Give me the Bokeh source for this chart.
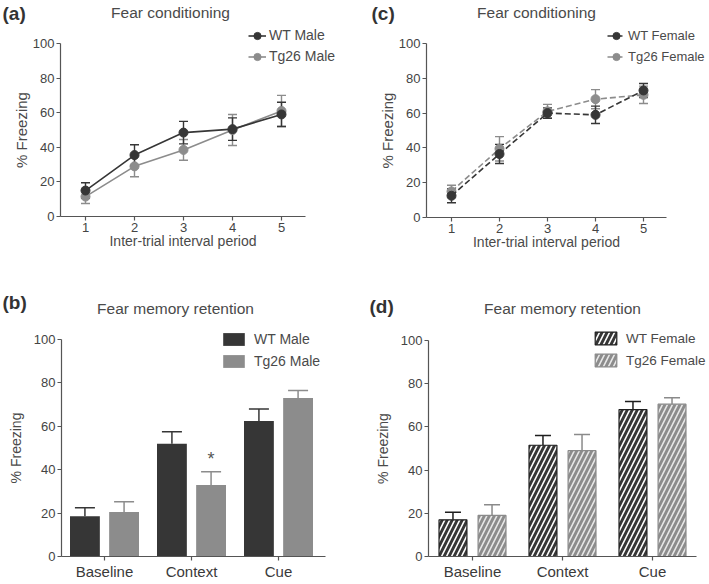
from bokeh.plotting import figure
from bokeh.layouts import column, row
from bokeh.models import (ColumnDataSource, Whisker, TeeHead, Legend, LegendItem,
                          Label, FixedTicker, LinearAxis)
from bokeh.transform import dodge
from bokeh.core.properties import value
from bokeh.embed import file_html
from bokeh.resources import INLINE

# ---------------- data ----------------
periods = [1, 2, 3, 4, 5]
wt_male = [15.0, 35.5, 48.5, 50.5, 59.0]
wt_male_err = [4.5, 6.0, 6.5, 6.5, 7.0]
tg_male = [11.5, 29.0, 38.5, 50.0, 61.0]
tg_male_err = [4.0, 6.0, 6.0, 9.0, 9.0]

wt_female = [12.5, 36.5, 60.0, 59.0, 73.0]
wt_female_err = [4.0, 5.5, 3.0, 5.0, 4.0]
tg_female = [15.0, 39.5, 61.0, 68.0, 70.5]
tg_female_err = [3.5, 7.0, 4.0, 5.5, 5.0]

phases = ["Baseline", "Context", "Cue"]
wt_male_ret = [18.5, 52.0, 62.5]
wt_male_ret_err = [4.0, 5.5, 5.5]
tg_male_ret = [20.5, 33.0, 73.0]
tg_male_ret_err = [4.7, 6.0, 3.5]
sig_phase = ["Context"]
sig_y = [45.0]
sig_text = ["*"]

wt_female_ret = [17.0, 51.5, 68.0]
wt_female_ret_err = [3.5, 4.5, 3.8]
tg_female_ret = [19.0, 49.0, 70.5]
tg_female_ret_err = [5.0, 7.5, 3.0]

y_ticks = [0, 20, 40, 60, 80, 100]

# ---------------- styles ----------------
FONT = "Liberation Sans"
TXT = "#4a4a4a"
AX = "#555555"
DARK = "#363636"
GRAY = "#8c8c8c"
TOP_H = 254
BOT_H = 329


def base_fig(W, H, ox, oy, x0val, x0px, kx, ky, xend_px, y_label, ylab_size,
             ylab_standoff, xticks, xlabels=None):
    xs = x0val - x0px / kx
    ys = -oy / ky
    p = figure(width=W, height=H, x_range=(xs, xs + W / kx), y_range=(ys, ys + H / ky),
               output_backend="svg", toolbar_location=None,
               min_border_left=0, min_border_right=0, min_border_top=0, min_border_bottom=0,
               background_fill_alpha=0, border_fill_alpha=0, x_axis_type=None,
               y_axis_type=None)
    p.outline_line_color = None
    p.grid.visible = False
    y_loc = x0val + (ox - x0px) / kx
    x_end = x0val + (xend_px - x0px) / kx
    xax = LinearAxis(fixed_location=0, bounds=(y_loc, x_end),
                     ticker=FixedTicker(ticks=xticks))
    yax = LinearAxis(fixed_location=y_loc, bounds=(0, 100),
                     ticker=FixedTicker(ticks=y_ticks))
    if xlabels is not None:
        xax.major_label_overrides = {t: l for t, l in zip(xticks, xlabels)}
    for ax in (xax, yax):
        ax.axis_line_color = AX
        ax.axis_line_width = 1.2
        ax.major_tick_line_color = AX
        ax.major_tick_line_width = 1.2
        ax.major_tick_out = 4
        ax.major_tick_in = 0
        ax.minor_tick_out = 0
        ax.minor_tick_in = 0
        ax.major_label_text_font = FONT
        ax.major_label_text_color = "#444444"
        ax.major_label_text_font_size = "13px"
        ax.major_label_standoff = 2
        ax.axis_label_text_font = FONT
        ax.axis_label_text_color = TXT
        ax.axis_label_text_font_style = "normal"
    yax.axis_label = y_label
    yax.axis_label_text_font_size = ylab_size
    yax.axis_label_standoff = ylab_standoff
    p.add_layout(xax, "below")
    p.add_layout(yax, "left")
    return p, xax, yax


def add_texts(p, letter, lx, ly, title, tx, ty, tsize):
    p.add_layout(Label(x=lx, y=ly, x_units="screen", y_units="screen", text=letter,
                       text_font=FONT, text_font_size="19px", text_font_style="bold",
                       text_color="#333333", text_baseline="middle", text_align="left"))
    p.add_layout(Label(x=tx, y=ty, x_units="screen", y_units="screen", text=title,
                       text_font=FONT, text_font_size=tsize, text_color=TXT,
                       text_baseline="middle", text_align="center"))


def line_panel(W, ox, oy, x0px, kx, ky, xend_px, letter, lx, tx, wt, wt_e, tg, tg_e,
               labels, dash, leg_x, leg_size):
    p, xax, yax = base_fig(W, TOP_H, ox, oy, 1, x0px, kx, ky, xend_px, "% Freezing",
                           "15px", 0, periods)
    xax.axis_label = "Inter-trial interval period"
    xax.axis_label_text_font_size = "14px"
    xax.axis_label_standoff = -2
    items = []
    for vals, errs, col, lab in ((tg, tg_e, GRAY, labels[1]), (wt, wt_e, DARK, labels[0])):
        src = ColumnDataSource(dict(x=periods, y=vals,
                                    lo=[v - e for v, e in zip(vals, errs)],
                                    hi=[v + e for v, e in zip(vals, errs)]))
        lr = p.line("x", "y", source=src, line_color=col, line_width=1.6, line_dash=dash)
        p.add_layout(Whisker(base="x", lower="lo", upper="hi", source=src,
                             line_color=col, line_width=1.4,
                             upper_head=TeeHead(size=9, line_color=col, line_width=1.4),
                             lower_head=TeeHead(size=9, line_color=col, line_width=1.4)))
        sr = p.scatter("x", "y", source=src, size=9, fill_color=col, line_color=col)
        items.append(LegendItem(label=lab, renderers=[lr, sr]))
    items = items[::-1]
    leg = Legend(items=items, location=(leg_x, TOP_H - 66.5), orientation="vertical",
                 padding=0, margin=0, spacing=0, glyph_width=18, glyph_height=21,
                 label_height=21, label_standoff=3, background_fill_alpha=0,
                 border_line_color=None, label_text_font=FONT,
                 label_text_font_size=leg_size, label_text_color=TXT)
    p.add_layout(leg)
    add_texts(p, letter, lx, TOP_H - 12.5, "Fear conditioning", tx, TOP_H - 12, "15.5px")
    return p


def bar_panel(W, ox, oy, x0px, kx, ky, xend_px, letter, lx, ly, tx, wt, wt_e, tg, tg_e,
              labels, hatch, leg_x, leg_y, leg_size, dx, bw, cap, sig=False):
    idx = list(range(len(phases)))
    p, xax, yax = base_fig(W, BOT_H, ox, oy, 0, x0px, kx, ky, xend_px, "% Freezing",
                           "14px", 7, idx, phases)
    xax.major_label_text_font_size = "15px"
    xax.major_label_text_color = "#3a3a3a"
    xax.major_label_standoff = 2
    src = ColumnDataSource(dict(x=idx, wt=wt, tg=tg,
                                wt_hi=[v + e for v, e in zip(wt, wt_e)],
                                tg_hi=[v + e for v, e in zip(tg, tg_e)]))
    rends = []
    for fld, off, col, hcol, lcol in (("wt", -dx, DARK, "#ffffff", "#1e1e1e"),
                                       ("tg", dx, GRAY, "#e8e8e8", "#8a8a8a")):
        if hatch:
            kw = dict(hatch_pattern="/", hatch_color=hcol, hatch_scale=10,
                      hatch_weight=1.6, line_color=lcol, line_width=1.2)
        else:
            kw = dict(line_color=None)
        ecol = lcol if hatch else col
        p.add_layout(Whisker(base=dodge("x", off), lower=fld, upper=fld + "_hi",
                             source=src, line_color=ecol, line_width=1.5,
                             upper_head=TeeHead(size=cap, line_color=ecol, line_width=1.5),
                             lower_head=None))
        r = p.vbar(x=dodge("x", off), top=fld, width=bw, source=src,
                   fill_color=col, **kw)
        rends.append(r)
    if sig:
        ssrc = ColumnDataSource(dict(x=[phases.index(c) for c in sig_phase], y=sig_y,
                                     t=sig_text))
        p.text(x=dodge("x", dx), y="y", text="t", source=ssrc,
               text_font=value(FONT), text_font_size="18px", text_color="#555555",
               text_align="center", text_baseline="middle")
    items = [LegendItem(label=labels[0], renderers=[rends[0]]),
             LegendItem(label=labels[1], renderers=[rends[1]])]
    leg = Legend(items=items, location=(leg_x, leg_y), orientation="vertical",
                 padding=0, margin=0, spacing=6, glyph_width=27, glyph_height=16,
                 label_height=16, label_standoff=7, background_fill_alpha=0,
                 border_line_color=None, label_text_font=FONT,
                 label_text_font_size=leg_size, label_text_color=TXT)
    p.add_layout(leg)
    add_texts(p, letter, lx, ly, "Fear memory retention", tx, 275, "15.5px")
    return p


pa = line_panel(354, 60, TOP_H - 216, 85, 49, 1.73, 305, "(a)", 2, 170,
                wt_male, wt_male_err, tg_male, tg_male_err,
                ["WT Male", "Tg26 Male"], "solid", 248, "14px")
pc = line_panel(354, 72, TOP_H - 217, 97, 48, 1.74, 312, "(c)", 17, 182,
                wt_female, wt_female_err, tg_female, tg_female_err,
                ["WT Female", "Tg26 Female"], "6 3", 253, "13px")
pb = bar_panel(354, 61, 27, 104, 87, 2.17, 325, "(b)", 2, 281, 175,
               wt_male_ret, wt_male_ret_err, tg_male_ret, tg_male_ret_err,
               ["WT Male", "Tg26 Male"], False, 220, 214.5, "14px", 0.225, 0.343, 20,
               sig=True)
pd = bar_panel(354, 74, 27, 118, 90, 2.16, 342, "(d)", 15, 277, 208,
               wt_female_ret, wt_female_ret_err, tg_female_ret, tg_female_ret_err,
               ["WT Female", "Tg26 Female"], True, 238, 215, "13.5px", 0.217, 0.31, 16)

layout = column(row(pa, pc), row(pb, pd))
open("out.html", "w").write(file_html(layout, INLINE))
